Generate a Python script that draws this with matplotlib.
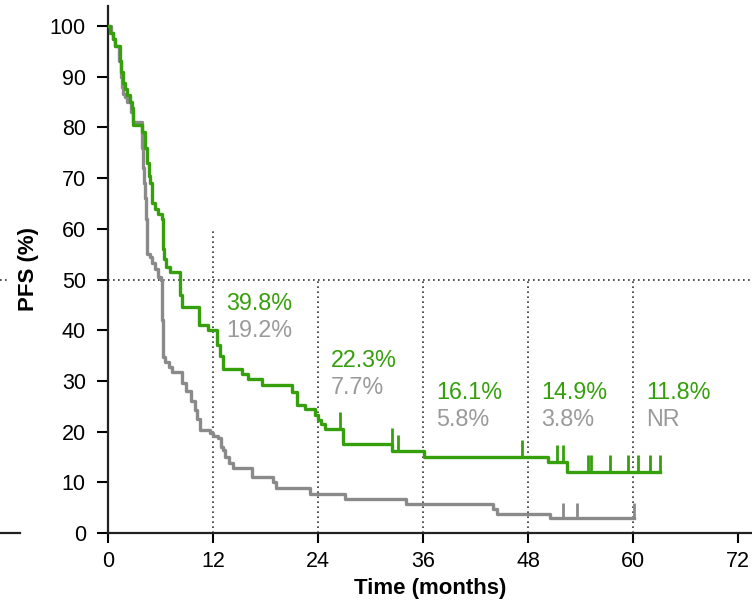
import numpy as np
import matplotlib
matplotlib.use("Agg")
from matplotlib import pyplot as plt
from matplotlib.lines import Line2D

plt.rcParams['font.family'] = ['Liberation Sans', 'DejaVu Sans']

# Kaplan-Meier steps (months, PFS %)
green_t = [0, 0.23, 0.57, 0.8, 1.37, 1.5, 1.7, 1.95, 2.2, 2.5, 2.75, 2.86, 3.9,
           4.2, 4.45, 4.7, 4.8, 5.0, 5.4, 5.7, 6.2, 6.3, 6.4, 6.6, 7.1, 8.2, 8.5,
           10.4, 11.4, 12.5, 12.8, 13.1, 15.3, 16.0, 17.6, 21.0, 21.6, 22.5, 23.7,
           24.0, 24.3, 24.8, 26.9, 32.5, 36.1, 50.3, 52.5, 63.1]
green_s = [100, 98.6, 97.5, 96, 93, 91, 88.8, 87.5, 86.4, 85, 83.8, 80.5, 79,
           76, 73, 70.5, 69, 65, 64, 63, 62, 56, 54, 52.5, 51.5, 47, 44.6,
           41, 40, 37, 35, 32.3, 31.4, 30.4, 29.2, 27.8, 25.2, 24.4, 23.2,
           22.3, 21.5, 20.5, 17.5, 16.1, 15, 14, 12, 12]
green_cens_t = [26.5, 32.4, 33.1, 47.3, 51.3, 52.0, 54.9, 55.2, 57.4, 59.4, 60.6, 61.9, 63.1]
green_cens_s = [20.5, 17.5, 16.1, 15, 14, 14, 12, 12, 12, 12, 12, 12, 12]

gray_t = [0, 0.3, 0.55, 0.8, 1.3, 1.5, 1.6, 1.7, 1.9, 2.2, 2.6, 2.86, 3.9, 4.0,
          4.1, 4.2, 4.3, 4.4, 4.45, 4.5, 4.8, 5.0, 5.4, 5.7, 6.1, 6.2, 6.3, 6.5,
          7.0, 7.3, 8.5, 8.9, 9.5, 9.9, 10.2, 10.5, 11.6, 12.0, 12.6, 12.9, 13.1,
          13.4, 13.8, 14.3, 16.5, 18.8, 19.2, 23.1, 27.1, 34.1, 44.0, 44.4, 50.5, 60.1]
gray_s = [100, 98.6, 97.5, 96, 93, 90, 88, 86.5, 86, 85, 83, 81, 76, 72,
          69, 66, 62, 59, 56, 55, 54.5, 53.3, 52, 50.5, 50, 42, 34.7, 33.7,
          32.7, 31.8, 29.6, 28, 26, 24.3, 22.5, 20.3, 19.7, 19.2, 18.7, 17, 16.4,
          15, 13.8, 12.8, 11, 10, 8.8, 7.7, 6.8, 5.8, 4.8, 3.8, 3.0, 3.0]
gray_cens_t = [52.0, 53.6, 60.1]
gray_cens_s = [3.0, 3.0, 3.0]

landmarks = [12, 24, 36, 48, 60]
green_labels = ['39.8%', '22.3%', '16.1%', '14.9%', '11.8%']
gray_labels = ['19.2%', '7.7%', '5.8%', '3.8%', 'NR']
label_base = [43.9, 32.7, 26.4, 26.4, 26.4]

green = '#36A00C'
gray = '#8A8A8A'
text_gray = '#9A9A9A'
dot = '#333333'

fig = plt.figure(figsize=(7.52, 6.02), dpi=100)
ax = fig.add_axes([108 / 752, 69 / 602, 644 / 752, (104 * 5.07) / 602])
ax.set_xlim(0, 73.6)
ax.set_ylim(0, 104)

# reference lines
ax.axhline(50, color=dot, lw=1.2, ls=(0, (1, 2)), zorder=1)
ax.vlines(12, 0, 60, color=dot, lw=1.2, ls=(0, (1, 2)), zorder=1)
ax.vlines(landmarks[1:], 0, 50, color=dot, lw=1.2, ls=(0, (1, 2)), zorder=1)

ax.step(gray_t, gray_s, where='post', color=gray, lw=2.4, zorder=3)
ax.step(green_t, green_s, where='post', color=green, lw=2.4, zorder=4)
ax.vlines(gray_cens_t, np.array(gray_cens_s), np.array(gray_cens_s) + 3.0,
          color=gray, lw=2.0, zorder=3)
ax.vlines(green_cens_t, np.array(green_cens_s), np.array(green_cens_s) + 3.3,
          color=green, lw=2.0, zorder=4)

for t, g, c, b in zip(landmarks, green_labels, gray_labels, label_base):
    ax.text(t + 1.5, b, g, color=green, fontsize=16.8, va='baseline', ha='left')
    ax.text(t + 1.5, b - 5.2, c, color=text_gray, fontsize=16.8, va='baseline', ha='left')

ax.set_xticks(np.arange(0, 73, 12))
ax.set_yticks(np.arange(0, 101, 10))
ax.tick_params(direction='out', width=1.5, labelsize=15.5)
ax.tick_params(axis='y', length=8, pad=8)
ax.tick_params(axis='x', length=7, pad=6)
for side in ['top', 'right']:
    ax.spines[side].set_visible(False)
for side in ['left', 'bottom']:
    ax.spines[side].set_linewidth(1.6)
    ax.spines[side].set_color('#222222')

ax.set_ylabel('PFS (%)', fontsize=16, fontweight='bold', labelpad=8)
ax.set_xlabel('Time (months)', fontsize=16, fontweight='bold', labelpad=4)

# stray fragments of the axis and 50% line at the far left
fig.add_artist(Line2D([0, 20 / 752], [69 / 602, 69 / 602], color='#222222', lw=1.6))
fig.add_artist(Line2D([0, 8 / 752], [322 / 602, 322 / 602], color=dot, lw=1.2, ls=(0, (1, 2))))

fig.savefig('out.png', dpi=100)
